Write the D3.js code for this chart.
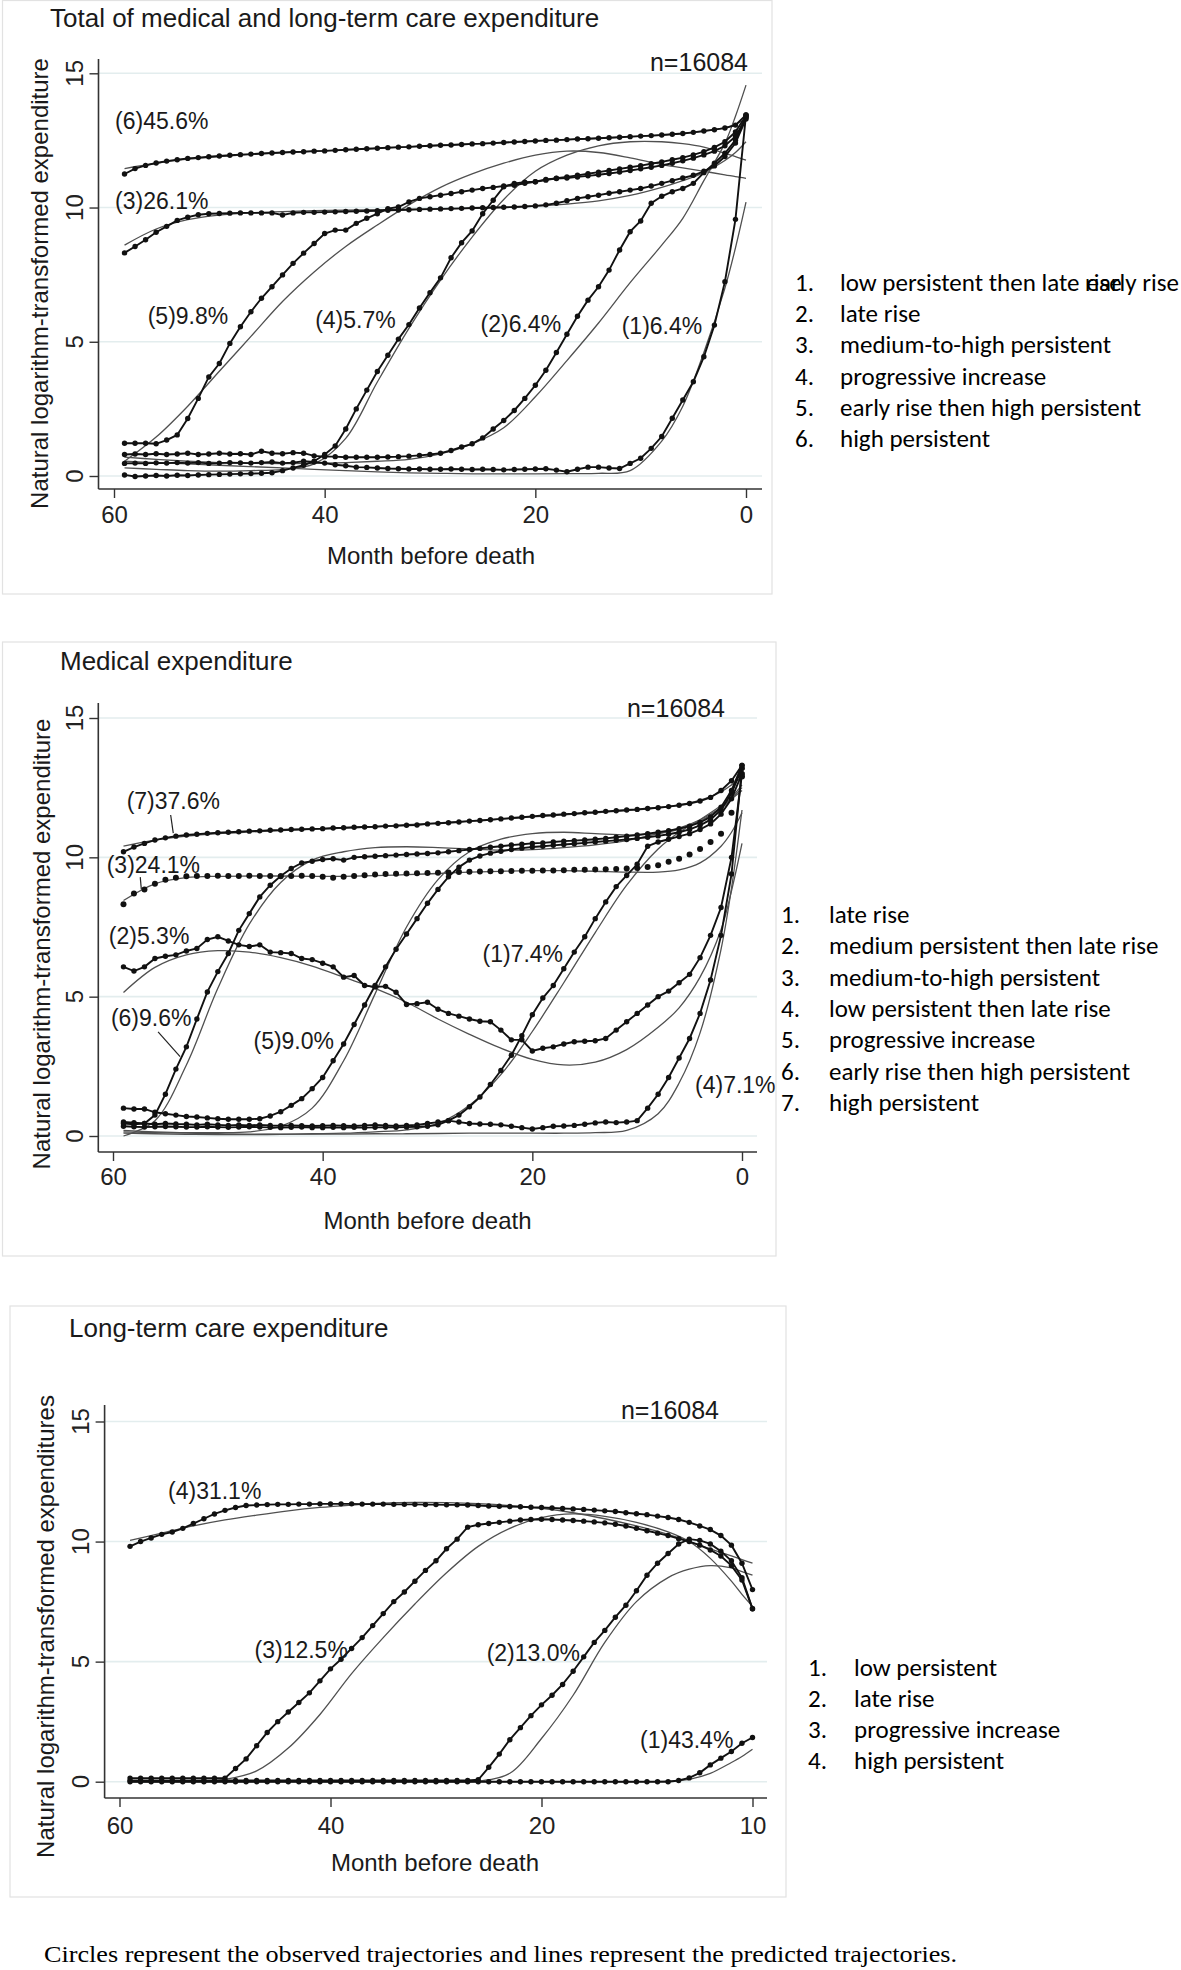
<!DOCTYPE html>
<html><head><meta charset="utf-8">
<script src="https://cdn.jsdelivr.net/npm/d3@7"></script>
<style>body{margin:0;background:#fff}svg{display:block}</style>
</head><body>
<svg id="c" width="1181" height="1970"></svg>
<script>
// ---------------- DATA ----------------
const months = d3.range(59, -1, -1);            // observed: month 59 ... 0
const predMonths = [59,56,53,50,47,44,41,38,35,32,29,26,23,20,17,14,11,8,6,4,2,1,0];
const xTicks = [60,40,20,0];
const xTickLabels1 = ["60","40","20","0"];
const xTickLabels3 = ["60","40","20","10"];
const yTicks = [0,5,10,15];

// Panel 1: total of medical and long-term care expenditure (observed, month 59..0)
const tot1 = [0.47,0.48,0.47,0.49,0.48,0.5,0.48,0.5,0.47,0.48,0.5,0.49,0.48,0.5,0.52,0.48,0.5,0.55,0.52,0.48,0.42,0.38,0.33,0.32,0.3,0.28,0.27,0.26,0.26,0.25,0.25,0.26,0.25,0.24,0.25,0.24,0.23,0.24,0.25,0.26,0.27,0.22,0.16,0.25,0.33,0.33,0.3,0.28,0.47,0.66,1.03,1.47,2.15,2.83,3.51,4.44,5.62,7.24,9.56,13.45];
const tot2 = [0.8,0.82,0.8,0.83,0.8,0.82,0.85,0.8,0.82,0.85,0.82,0.83,0.8,0.92,0.85,0.83,0.87,0.85,0.75,0.72,0.72,0.7,0.7,0.7,0.7,0.71,0.72,0.74,0.77,0.8,0.85,0.95,1.08,1.2,1.42,1.75,2.07,2.44,2.89,3.38,3.94,4.6,5.28,5.95,6.55,7.05,7.67,8.42,9.1,9.5,10.16,10.42,10.59,10.71,10.9,11.3,11.65,12.02,12.51,13.38];
const tot3 = [8.31,8.55,8.8,9.08,9.3,9.52,9.64,9.73,9.77,9.78,9.79,9.8,9.8,9.8,9.8,9.72,9.8,9.82,9.82,9.83,9.84,9.85,9.86,9.87,9.88,9.9,9.91,9.92,9.93,9.94,9.95,9.96,9.97,9.98,9.99,10.0,10.01,10.02,10.04,10.06,10.1,10.16,10.25,10.34,10.4,10.46,10.53,10.59,10.65,10.71,10.8,10.9,11.0,11.1,11.2,11.35,11.55,11.9,12.4,13.3];
const tot4 = [0.04,-0.02,0.0,0.02,0.0,0.03,0.02,0.04,0.05,0.06,0.07,0.08,0.09,0.1,0.12,0.2,0.3,0.4,0.55,0.8,1.12,1.75,2.5,3.2,3.89,4.5,5.1,5.64,6.26,6.83,7.38,8.13,8.69,9.13,9.77,10.27,10.77,10.9,10.94,10.96,11.05,11.08,11.1,11.14,11.18,11.22,11.27,11.32,11.38,11.44,11.5,11.57,11.65,11.74,11.84,11.96,12.1,12.3,12.65,13.35];
const tot5 = [1.22,1.22,1.22,1.2,1.34,1.53,2.14,2.89,3.69,4.19,4.94,5.56,6.12,6.62,7.05,7.49,7.92,8.3,8.66,9.03,9.16,9.16,9.41,9.6,9.77,9.96,10.02,10.21,10.34,10.4,10.46,10.52,10.59,10.65,10.71,10.75,10.8,10.83,10.9,10.96,11.02,11.09,11.14,11.2,11.26,11.32,11.38,11.44,11.5,11.56,11.63,11.7,11.78,11.86,11.96,12.08,12.24,12.45,12.82,13.42];
const tot6 = [11.25,11.45,11.57,11.66,11.73,11.78,11.83,11.86,11.89,11.92,11.95,11.97,11.99,12.01,12.03,12.05,12.07,12.08,12.1,12.11,12.13,12.15,12.17,12.19,12.21,12.23,12.25,12.26,12.28,12.3,12.32,12.33,12.35,12.37,12.38,12.4,12.42,12.44,12.46,12.48,12.5,12.51,12.53,12.55,12.56,12.58,12.6,12.62,12.64,12.66,12.68,12.7,12.73,12.76,12.8,12.85,12.9,12.96,13.07,13.45];
// Panel 1 predicted (at predMonths)
const totP1 = [0.55,0.5,0.45,0.4,0.35,0.3,0.25,0.2,0.15,0.12,0.1,0.08,0.08,0.08,0.09,0.1,0.2,1.3,2.6,4.6,7.0,8.5,10.2];
const totP2 = [0.7,0.62,0.55,0.5,0.47,0.46,0.47,0.5,0.55,0.62,0.82,1.2,1.8,2.95,4.3,5.7,7.2,8.6,9.6,11.0,12.4,13.4,14.56];
const totP3 = [8.6,9.2,9.55,9.72,9.8,9.85,9.88,9.9,9.92,9.93,9.95,9.97,10.0,10.05,10.13,10.25,10.45,10.75,11.0,11.3,11.75,12.05,12.45];
const totP4 = [0.3,0.25,0.2,0.18,0.2,0.25,0.45,1.4,3.5,5.5,7.3,8.9,10.3,11.35,11.95,12.3,12.45,12.45,12.38,12.25,12.02,11.9,11.77];
const totP5 = [0.55,1.45,2.6,3.9,5.2,6.5,7.6,8.55,9.35,10.1,10.75,11.25,11.65,11.95,12.1,12.05,11.85,11.6,11.48,11.35,11.22,11.15,11.09];
const totP6 = [11.45,11.65,11.8,11.9,11.98,12.05,12.1,12.15,12.2,12.26,12.32,12.37,12.42,12.48,12.53,12.58,12.64,12.7,12.76,12.85,12.98,13.1,13.3];

// Panel 2: medical expenditure
const med1 = [0.35,0.33,0.32,0.33,0.34,0.33,0.32,0.32,0.33,0.32,0.31,0.32,0.33,0.32,0.31,0.3,0.31,0.32,0.3,0.3,0.31,0.3,0.31,0.3,0.31,0.32,0.31,0.32,0.33,0.35,0.4,0.55,0.75,1.05,1.4,1.85,2.35,2.9,3.6,4.35,4.95,5.4,6.0,6.6,7.15,7.8,8.4,8.95,9.35,9.75,10.4,10.55,10.65,10.75,10.85,11.0,11.2,11.55,12.1,13.0];
const med2 = [6.07,5.92,6.07,6.37,6.45,6.5,6.64,6.73,7.05,7.15,7.0,6.86,6.8,6.86,6.6,6.58,6.55,6.37,6.33,6.2,6.07,5.7,5.76,5.4,5.35,5.37,5.16,4.72,4.75,4.8,4.55,4.4,4.3,4.2,4.12,4.1,3.8,3.45,3.45,3.05,3.15,3.2,3.3,3.38,3.4,3.42,3.5,3.8,4.1,4.4,4.7,5.0,5.2,5.5,5.8,6.4,7.2,8.2,10.0,13.0];
const med3 = [8.32,8.7,8.85,9.05,9.2,9.27,9.32,9.33,9.33,9.34,9.33,9.33,9.34,9.33,9.33,9.32,9.33,9.34,9.33,9.3,9.27,9.3,9.33,9.36,9.38,9.4,9.41,9.42,9.43,9.44,9.45,9.46,9.47,9.48,9.49,9.5,9.5,9.51,9.52,9.52,9.53,9.53,9.54,9.55,9.55,9.56,9.57,9.58,9.6,9.62,9.65,9.72,9.84,9.95,10.1,10.3,10.55,10.85,11.6,12.9];
const med4 = [0.5,0.48,0.45,0.42,0.45,0.43,0.42,0.4,0.42,0.4,0.38,0.4,0.38,0.4,0.38,0.37,0.38,0.37,0.36,0.37,0.38,0.37,0.36,0.38,0.4,0.38,0.36,0.38,0.4,0.45,0.5,0.55,0.5,0.45,0.43,0.42,0.4,0.35,0.3,0.25,0.3,0.35,0.36,0.38,0.42,0.47,0.5,0.48,0.5,0.55,1.0,1.5,2.1,2.8,3.5,4.4,5.6,7.2,9.4,13.2];
const med5 = [1.0,0.97,0.97,0.85,0.8,0.75,0.7,0.68,0.65,0.62,0.6,0.6,0.6,0.62,0.72,0.87,1.1,1.34,1.7,2.1,2.7,3.3,4.0,4.7,5.4,6.07,6.7,7.25,7.8,8.35,8.85,9.3,9.65,9.9,10.05,10.15,10.22,10.28,10.33,10.37,10.4,10.43,10.46,10.49,10.52,10.55,10.58,10.61,10.64,10.68,10.72,10.77,10.83,10.9,11.0,11.15,11.35,11.7,12.3,13.2];
const med6 = [0.45,0.42,0.45,0.75,1.5,2.4,3.2,4.2,5.17,5.9,6.55,7.38,7.98,8.58,9.0,9.33,9.6,9.8,9.86,9.92,9.95,9.9,10.0,10.02,10.04,10.06,10.08,10.1,10.12,10.14,10.16,10.2,10.24,10.28,10.32,10.36,10.4,10.44,10.47,10.5,10.52,10.55,10.58,10.6,10.62,10.65,10.68,10.72,10.76,10.8,10.85,10.9,10.96,11.03,11.12,11.25,11.45,11.8,12.4,13.3];
const med7 = [10.2,10.37,10.5,10.62,10.7,10.76,10.8,10.83,10.86,10.88,10.9,10.92,10.94,10.95,10.97,10.98,11.0,11.01,11.02,11.03,11.05,11.06,11.08,11.09,11.1,11.12,11.13,11.15,11.16,11.2,11.22,11.24,11.27,11.3,11.32,11.35,11.38,11.41,11.44,11.47,11.5,11.52,11.55,11.57,11.6,11.62,11.65,11.67,11.7,11.72,11.75,11.78,11.82,11.87,11.93,12.02,12.15,12.4,12.75,13.3];
const medP1 = [0.1,0.08,0.06,0.05,0.05,0.06,0.08,0.1,0.15,0.22,0.45,1.1,2.2,3.75,5.5,7.3,9.0,10.3,10.9,11.35,11.85,12.1,12.4];
const medP2 = [5.15,6.05,6.5,6.65,6.6,6.4,6.1,5.7,5.3,4.8,4.2,3.65,3.15,2.75,2.55,2.65,3.1,3.9,4.6,5.7,7.4,8.8,10.5];
const medP3 = [8.45,9.05,9.27,9.32,9.33,9.33,9.32,9.32,9.34,9.38,9.42,9.47,9.5,9.52,9.52,9.5,9.47,9.47,9.55,9.8,10.4,10.9,11.6];
const medP4 = [0.15,0.12,0.1,0.08,0.07,0.07,0.07,0.07,0.08,0.08,0.09,0.1,0.1,0.1,0.1,0.12,0.2,0.8,1.9,3.7,6.7,8.9,11.7];
const medP5 = [0.2,0.15,0.12,0.12,0.15,0.35,1.0,2.7,5.1,7.5,9.2,10.2,10.65,10.85,10.9,10.85,10.8,10.85,11.0,11.3,11.75,12.1,12.5];
const medP6 = [0.0,0.55,2.55,5.3,7.6,9.1,9.9,10.2,10.35,10.38,10.35,10.3,10.26,10.28,10.35,10.45,10.6,10.85,11.05,11.35,11.8,12.15,12.6];
const medP7 = [10.4,10.62,10.76,10.85,10.91,10.96,11.0,11.05,11.1,11.17,11.24,11.3,11.37,11.45,11.52,11.6,11.68,11.78,11.88,12.05,12.35,12.6,12.9];

// Panel 3: long-term care expenditure
const ltc1 = [0,0,0,0,0,0,0,0,0,0,0,0,0,0,0,0,0,0,0,0,0,0,0,0,0,0,0,0,0,0,0,0,0,0,0,0,0,0,0,0,0,0,0,0,0,0,0,0,0,0,0,0,0.05,0.16,0.37,0.7,0.98,1.26,1.6,1.84];
const ltc2 = [0.05,0.05,0.05,0.05,0.05,0.05,0.05,0.05,0.05,0.05,0.05,0.05,0.05,0.05,0.05,0.05,0.05,0.05,0.05,0.05,0.05,0.05,0.05,0.05,0.05,0.05,0.05,0.05,0.05,0.05,0.05,0.05,0.05,0.08,0.6,1.15,1.75,2.25,2.75,3.2,3.6,4.05,4.6,5.2,5.8,6.3,6.85,7.35,7.95,8.6,9.1,9.5,9.9,10.1,10.05,9.9,9.6,9.2,8.5,7.2];
const ltc3 = [0.15,0.15,0.15,0.15,0.15,0.15,0.15,0.15,0.15,0.15,0.55,0.95,1.5,2.05,2.5,2.9,3.3,3.7,4.2,4.7,5.1,5.55,6.0,6.5,7.0,7.5,7.9,8.35,8.8,9.2,9.7,10.1,10.6,10.7,10.75,10.8,10.85,10.9,10.92,10.93,10.92,10.9,10.88,10.85,10.82,10.78,10.72,10.65,10.55,10.45,10.35,10.25,10.12,10.0,9.85,9.65,9.4,9.0,8.4,7.2];
const ltc4 = [9.8,10.0,10.15,10.3,10.4,10.55,10.75,10.95,11.15,11.3,11.42,11.5,11.52,11.54,11.55,11.55,11.56,11.56,11.57,11.57,11.57,11.57,11.56,11.56,11.56,11.55,11.55,11.55,11.54,11.54,11.53,11.53,11.52,11.5,11.48,11.47,11.46,11.45,11.43,11.42,11.4,11.38,11.36,11.34,11.31,11.28,11.25,11.2,11.16,11.12,11.06,11.0,10.92,10.8,10.65,10.5,10.25,9.85,9.1,8.0];
const ltcP1 = [0,0,0,0,0,0,0,0,0,0,0,0,0,0,0,0,0,0.02,0.1,0.35,0.8,1.05,1.35];
const ltcP2 = [0,0,0,0,0,0,0,0,0,0,0,0.02,0.35,1.8,3.6,5.8,7.5,8.5,8.85,9.0,8.9,8.75,8.6];
const ltcP3 = [0,0,0.02,0.1,0.45,1.4,2.8,4.5,6.0,7.4,8.7,9.8,10.55,11.0,11.15,11.05,10.8,10.4,10.0,9.3,8.35,7.8,7.3];
const ltcP4 = [10.05,10.35,10.65,10.9,11.1,11.28,11.42,11.52,11.6,11.63,11.62,11.58,11.5,11.38,11.2,10.95,10.65,10.3,10.0,9.7,9.4,9.25,9.1];

// Curve labels: [text, month, value]
const labels1 = [["(6)45.6%",59.9,12.92],["(3)26.1%",59.9,9.94],["(5)9.8%",56.8,5.66],["(4)5.7%",40.9,5.53],["(2)6.4%",25.2,5.36],["(1)6.4%",11.8,5.29]];
const labels2 = [["(7)37.6%",58.7,11.73],["(3)24.1%",60.6,9.45],["(2)5.3%",60.4,6.89],["(6)9.6%",60.2,3.95],["(5)9.0%",46.6,3.12],["(1)7.4%",24.75,6.24],["(4)7.1%",4.48,1.56]];
const leaders2 = [[54.5,11.52,54.25,10.87],[57.4,9.29,57.3,8.86],[55.7,3.74,53.6,2.85]];
const labels3 = [["(4)31.1%",55.4,11.77],["(3)12.5%",47.2,5.15],["(2)13.0%",25.2,5.03],["(1)43.4%",10.66,1.42]];

const legend1 = ["low persistent then late rise","late rise","medium-to-high persistent","progressive increase","early rise then high persistent","high persistent"];
const legend1Overlay = "early rise";
const legend2 = ["late rise","medium persistent then late rise","medium-to-high persistent","low persistent then late rise","progressive increase","early rise then high persistent","high persistent"];
const legend3 = ["low persistent","late rise","progressive increase","high persistent"];

const titles = ["Total of medical and long-term care expenditure","Medical expenditure","Long-term care expenditure"];
const yTitles = ["Natural logarithm-transformed expenditure","Natural logarithm-transformed expenditure","Natural logarithm-transformed expenditures"];
const xTitle = "Month before death";
const nText = "n=16084";
const footnote = "Circles represent the observed trajectories and lines represent the predicted trajectories.";

// ---------------- DRAWING ----------------
const svg = d3.select("#c");
const FONT = "'Liberation Sans', Arial, Helvetica, sans-serif";
const LFONT = "Carlito, Calibri, Lato, sans-serif";
const LSIZE = 25;

function drawPanel(L, obsList, predList, dotsOnly, labels, leaders, xLabs, legend) {
  const g = svg.append("g");
  const x = d3.scaleLinear().domain([60, 0]).range([L.x60, L.x0]);
  const y = d3.scaleLinear().domain([0, 15]).range([L.y0, L.y15]);

  g.append("rect").attr("x", L.frame[0]).attr("y", L.frame[1]).attr("width", L.frame[2]).attr("height", L.frame[3])
    .attr("fill", "none").attr("stroke", "#e2e2e2").attr("stroke-width", 1.2);

  // gridlines
  g.selectAll(".grid").data(yTicks).join("line")
    .attr("x1", L.axisX).attr("x2", L.xRight).attr("y1", d => y(d)).attr("y2", d => y(d))
    .attr("stroke", "#e3edee").attr("stroke-width", 1.6);

  // y axis ticks
  const ya = g.append("g").attr("transform", `translate(${L.axisX},0)`)
    .call(d3.axisLeft(y).tickValues(yTicks).tickSize(9).tickSizeOuter(0).tickFormat(""));
  ya.select(".domain").remove();
  ya.selectAll("line").attr("stroke", "#333").attr("stroke-width", 1.4);
  g.selectAll(".ytl").data(yTicks).join("text")
    .attr("transform", d => `translate(${L.yTickX},${y(d)}) rotate(-90)`)
    .attr("text-anchor", "middle").attr("font-family", FONT).attr("font-size", 24).attr("fill", "#222")
    .text(d => d);

  // x axis
  const xa = g.append("g").attr("transform", `translate(0,${L.axisY})`)
    .call(d3.axisBottom(x).tickValues(xTicks).tickSize(9).tickSizeOuter(0).tickFormat((d, i) => xLabs[i]));
  xa.select(".domain").remove();
  xa.selectAll("line").attr("stroke", "#333").attr("stroke-width", 1.4);
  xa.selectAll("text").attr("y", L.xTickBase - L.axisY).attr("dy", 0)
    .attr("font-family", FONT).attr("font-size", 24).attr("fill", "#222");

  // axis lines
  g.append("line").attr("x1", L.axisX).attr("x2", L.axisX).attr("y1", L.yTop).attr("y2", L.axisY)
    .attr("stroke", "#333").attr("stroke-width", 1.6);
  g.append("line").attr("x1", L.axisX).attr("x2", L.xRight).attr("y1", L.axisY).attr("y2", L.axisY)
    .attr("stroke", "#333").attr("stroke-width", 1.6);

  // titles
  g.append("text").attr("x", L.titleX).attr("y", L.titleY).attr("font-family", FONT).attr("font-size", 26)
    .attr("fill", "#1a1a1a").text(L.title);
  g.append("text").attr("x", L.nX).attr("y", L.nY).attr("text-anchor", "end").attr("font-family", FONT)
    .attr("font-size", 25).attr("fill", "#1a1a1a").text(nText);
  g.append("text").attr("transform", `translate(${L.yTitleX},${L.yTitleY}) rotate(-90)`).attr("text-anchor", "middle")
    .attr("font-family", FONT).attr("font-size", 24).attr("fill", "#1a1a1a").text(L.yTitle);
  g.append("text").attr("x", L.xTitleX).attr("y", L.xTitleY).attr("text-anchor", "middle")
    .attr("font-family", FONT).attr("font-size", 24).attr("fill", "#1a1a1a").text(xTitle);

  // predicted lines
  const predLine = d3.line().x((d, i) => x(predMonths[i])).y(d => y(d)).curve(d3.curveCatmullRom.alpha(0.5));
  g.selectAll(".pred").data(predList).join("path")
    .attr("d", d => predLine(d)).attr("fill", "none").attr("stroke", "#505050").attr("stroke-width", 1.3);

  // observed lines + circles
  const obsLine = d3.line().x((d, i) => x(months[i])).y(d => y(d));
  obsList.forEach((s, k) => {
    if (!dotsOnly[k]) {
      g.append("path").attr("d", obsLine(s)).attr("fill", "none").attr("stroke", "#111").attr("stroke-width", 1.9);
    }
    g.append("g").selectAll("circle").data(s).join("circle")
      .attr("cx", (d, i) => x(months[i])).attr("cy", d => y(d)).attr("r", dotsOnly[k] ? 3.0 : 2.7).attr("fill", "#111");
  });

  // leader lines
  g.selectAll(".lead").data(leaders).join("line")
    .attr("x1", d => x(d[0])).attr("y1", d => y(d[1])).attr("x2", d => x(d[2])).attr("y2", d => y(d[3]))
    .attr("stroke", "#222").attr("stroke-width", 1.2);

  // curve labels
  g.selectAll(".lab").data(labels).join("text")
    .attr("x", d => x(d[1])).attr("y", d => y(d[2])).attr("font-family", FONT).attr("font-size", 23)
    .attr("fill", "#1a1a1a").text(d => d[0]);

  // legend
  const lg = g.append("g");
  legend.forEach((t, i) => {
    lg.append("text").attr("x", L.legNumX).attr("y", L.legY + i * L.legStep).attr("font-family", LFONT)
      .attr("font-size", LSIZE).attr("fill", "#000").text((i + 1) + ".");
    lg.append("text").attr("x", L.legTextX).attr("y", L.legY + i * L.legStep).attr("font-family", LFONT)
      .attr("font-size", LSIZE).attr("fill", "#000").text(t);
  });
  return {g, lg};
}

const L1 = {frame:[2.5,0.5,769.5,593.5], x60:114, x0:746, y0:476, y15:73.3, axisX:98.5, axisY:489, yTop:59, xRight:762,
  yTickX:82.5, xTickBase:523, title:titles[0], titleX:50, titleY:27, nX:748, nY:70.5, yTitle:yTitles[0], yTitleX:47.5, yTitleY:283.5,
  xTitleX:431, xTitleY:563.5, legNumX:795, legTextX:840, legY:291, legStep:31.2};
const L2 = {frame:[2.5,642,773.5,614], x60:113, x0:742, y0:1136, y15:718, axisX:98.3, axisY:1152, yTop:703, xRight:757,
  yTickX:82.5, xTickBase:1185, title:titles[1], titleX:60, titleY:670, nX:725, nY:717, yTitle:yTitles[1], yTitleX:50, yTitleY:944,
  xTitleX:427.5, xTitleY:1229, legNumX:781, legTextX:829, legY:923, legStep:31.3};
const L3 = {frame:[10,1306,776,591], x60:119.5, x0:752.5, y0:1781.7, y15:1421.5, axisX:104.6, axisY:1798, yTop:1405, xRight:767,
  yTickX:89, xTickBase:1834, title:titles[2], titleX:69, titleY:1336.5, nX:719, nY:1419, yTitle:yTitles[2], yTitleX:54, yTitleY:1626.5,
  xTitleX:435, xTitleY:1871, legNumX:808, legTextX:854, legY:1676, legStep:31};

const p1 = drawPanel(L1, [tot1,tot2,tot3,tot4,tot5,tot6], [totP1,totP2,totP3,totP4,totP5,totP6],
  [false,false,false,false,false,false], labels1, [], xTickLabels1, legend1);
drawPanel(L2, [med1,med2,med3,med4,med5,med6,med7], [medP1,medP2,medP3,medP4,medP5,medP6,medP7],
  [false,false,true,false,false,false,false], labels2, leaders2, xTickLabels1, legend2);
drawPanel(L3, [ltc1,ltc2,ltc3,ltc4], [ltcP1,ltcP2,ltcP3,ltcP4],
  [false,false,false,false], labels3, [], xTickLabels3, legend3);

// overlapping text in legend item 1 of panel 1 (as in the source image)
p1.lg.append("text").attr("x", 1179).attr("y", L1.legY).attr("text-anchor", "end").attr("font-family", LFONT)
  .attr("font-size", LSIZE).attr("fill", "#000").text(legend1Overlay);

// footnote
svg.append("text").attr("x", 44).attr("y", 1962).attr("font-family", "'Liberation Serif', 'Times New Roman', serif")
  .attr("font-size", 24).attr("textLength", 913).attr("lengthAdjust", "spacingAndGlyphs").attr("fill", "#000").text(footnote);
</script>
</body></html>
